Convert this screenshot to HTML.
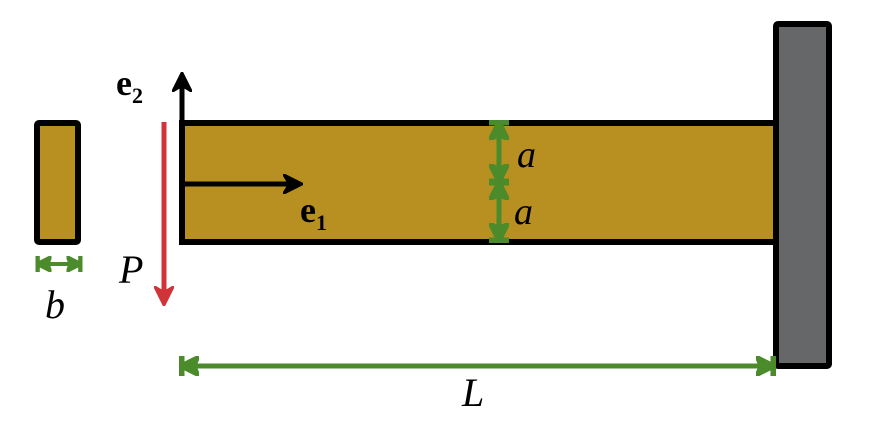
<!DOCTYPE html>
<html><head><style>body{margin:0;background:#fff}svg{display:block}</style></head><body>
<svg width="876" height="427" viewBox="0 0 876 427" xmlns="http://www.w3.org/2000/svg">
<defs>
<marker id="bk" viewBox="0 0 10 10" refX="7" refY="5" markerWidth="4" markerHeight="4" orient="auto"><path d="M0,0 L10,5 L0,10 L3,5z" fill="#000" stroke="#000" stroke-linejoin="round"/></marker>
<marker id="rd" viewBox="0 0 10 10" refX="7" refY="5" markerWidth="4" markerHeight="4" orient="auto"><path d="M0,0 L10,5 L0,10 L3,5z" fill="#d13438" stroke="#d13438" stroke-linejoin="round"/></marker>
<marker id="gr" viewBox="0 0 10 10" refX="9" refY="5" markerWidth="4" markerHeight="4" orient="auto-start-reverse"><path d="M0,0 L8,4 L8,0 L10,0 L10,10 L8,10 L8,6 L0,10 L2,5z" fill="#4b8b2b" stroke="#4b8b2b" stroke-width="1.5" stroke-linejoin="round"/></marker>
</defs>
<rect x="182" y="123" width="600" height="119" fill="#b88f21" stroke="#000" stroke-width="6"/>
<rect x="776" y="24" width="53" height="342" rx="2" fill="#666769" stroke="#000" stroke-width="6"/>
<rect x="37" y="123" width="41" height="119" rx="2" fill="#b88f21" stroke="#000" stroke-width="6"/>
<line x1="182" y1="125" x2="182" y2="78" stroke="#000" stroke-width="5" marker-end="url(#bk)"/>
<line x1="182" y1="184" x2="297" y2="184" stroke="#000" stroke-width="5" marker-end="url(#bk)"/>
<line x1="164" y1="122" x2="164" y2="300" stroke="#d13438" stroke-width="5" marker-end="url(#rd)"/>
<line x1="37" y1="264" x2="81" y2="264" stroke="#4b8b2b" stroke-width="4" marker-start="url(#gr)" marker-end="url(#gr)"/>
<line x1="499" y1="122" x2="499" y2="182" stroke="#4b8b2b" stroke-width="5" marker-start="url(#gr)" marker-end="url(#gr)"/>
<line x1="499" y1="182" x2="499" y2="241" stroke="#4b8b2b" stroke-width="5" marker-start="url(#gr)" marker-end="url(#gr)"/>
<line x1="181" y1="366" x2="774" y2="366" stroke="#4b8b2b" stroke-width="5" marker-start="url(#gr)" marker-end="url(#gr)"/>
<g font-family="Liberation Serif, serif" fill="#000">
<text x="116" y="95" font-size="36" font-weight="bold">e<tspan font-size="22" dy="8">2</tspan></text>
<text x="300" y="222" font-size="36" font-weight="bold">e<tspan font-size="22" dy="8">1</tspan></text>
<text x="119" y="283" font-size="40" font-style="italic">P</text>
<text x="45" y="318" font-size="40" font-style="italic">b</text>
<text x="462" y="406" font-size="40" font-style="italic">L</text>
<text x="517" y="167" font-size="38" font-style="italic">a</text>
<text x="514" y="224" font-size="38" font-style="italic">a</text>
</g>
</svg>
</body></html>
